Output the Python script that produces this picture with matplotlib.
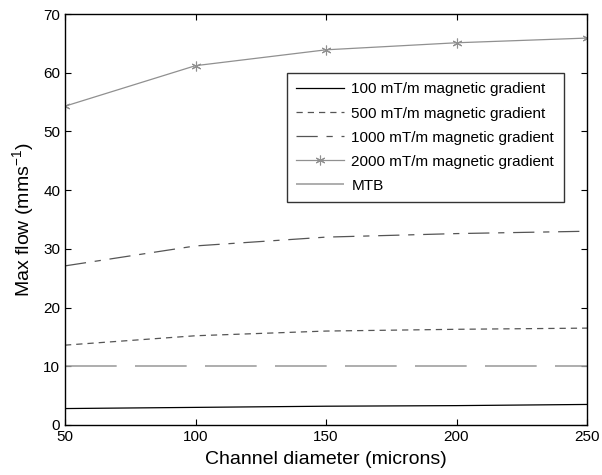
import matplotlib
matplotlib.use("Agg")
import matplotlib.pyplot as plt

plt.rcParams['font.family'] = ['Liberation Sans', 'DejaVu Sans']
plt.rcParams['mathtext.fontset'] = 'custom'
plt.rcParams['mathtext.rm'] = 'Liberation Sans'
plt.rcParams['mathtext.default'] = 'rm'

# channel diameters (microns)
diameters = [50, 100, 150, 200, 250]

# max flow (mm/s) per gradient
flow_100 = [2.8, 3.0, 3.2, 3.3, 3.5]
flow_500 = [13.6, 15.2, 16.0, 16.3, 16.5]
flow_1000 = [27.1, 30.5, 32.0, 32.6, 33.0]
flow_2000 = [54.3, 61.2, 63.9, 65.1, 65.9]
flow_mtb = [10, 10, 10, 10, 10]

labels = ["100 mT/m magnetic gradient", "500 mT/m magnetic gradient",
          "1000 mT/m magnetic gradient", "2000 mT/m magnetic gradient", "MTB"]

fig = plt.figure(figsize=(6.02, 4.75), dpi=100)
ax = fig.add_axes([65 / 602, 50 / 475, 522 / 602, 411 / 475])

ax.plot(diameters, flow_100, color="black", linewidth=0.9, label=labels[0])
ax.plot(diameters, flow_500, color="#555555", linewidth=0.9, dashes=(5, 4), label=labels[1])
ax.plot(diameters, flow_1000, color="#555555", linewidth=0.9, dashes=(17, 7, 5, 7), label=labels[2])
ax.plot(diameters, flow_2000, color="#909090", linewidth=0.9, marker=(6, 2, 0), markersize=7,
        markeredgewidth=0.8, markeredgecolor="#909090", label=labels[3])
ax.plot(diameters, flow_mtb, color="#a0a0a0", linewidth=1.2, dashes=(31, 11), label=labels[4])

ax.set_xlim(50, 250)
ax.set_ylim(0, 70)
ax.set_xticks([50, 100, 150, 200, 250])
ax.set_yticks(range(0, 71, 10))
ax.tick_params(direction="in", top=True, right=True, labelsize=11, length=4)
for s in ax.spines.values():
    s.set_linewidth(1.0)

ax.set_xlabel("Channel diameter (microns)", fontsize=14, labelpad=5)
ax.set_ylabel("Max flow (mms$^{-1}$)", fontsize=14, labelpad=5)

leg = ax.legend(loc="upper left", bbox_to_anchor=((287 - 65) / 522, (475 - 73 - 50) / 411),
                borderaxespad=0, fontsize=11, frameon=True, fancybox=False, handlelength=3.1,
                borderpad=0.62, labelspacing=0.66, handletextpad=0.5)
leg.get_frame().set_edgecolor("black")
leg.get_frame().set_linewidth(1.0)

fig.savefig("out.png", dpi=100)
